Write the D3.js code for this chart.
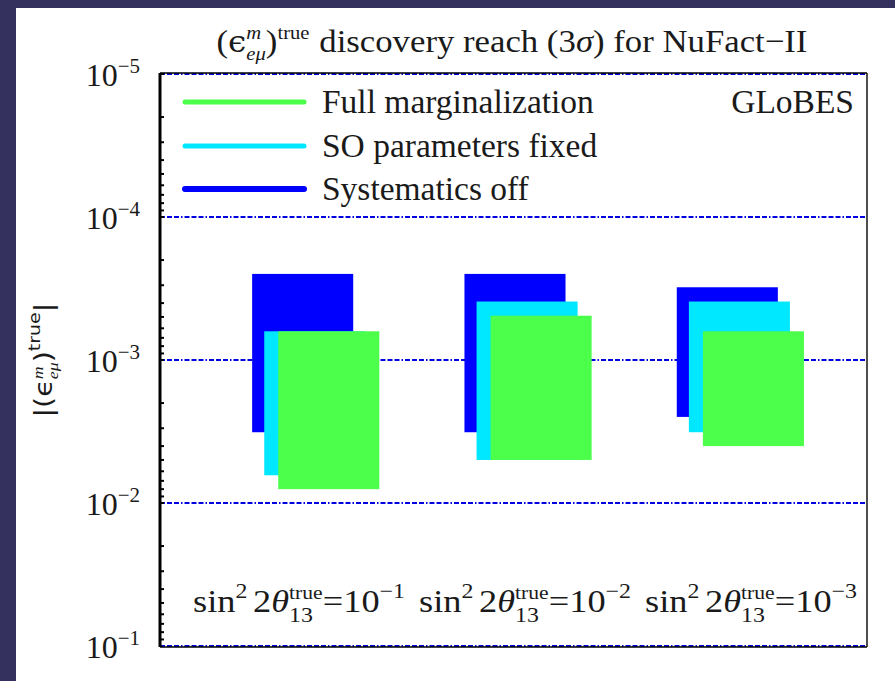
<!DOCTYPE html>
<html>
<head>
<meta charset="utf-8">
<script src="https://cdn.jsdelivr.net/npm/d3@7"></script>
<style>
  html, body { margin: 0; padding: 0; background: #ffffff; }
  svg { display: block; }
  text { font-family: "Liberation Serif", "Times New Roman", serif; fill: #1a1a1a; }
</style>
</head>
<body>
<svg id="chart" width="895" height="681"></svg>
<script>
// ---- data -------------------------------------------------------------
// sin^2(2 theta13) true values, as powers of ten (one group per value)
const thetaExponents = [-1, -2, -3];

// Series, drawn back to front
const seriesNames  = ["Systematics off", "SO parameters fixed", "Full marginalization"];
const seriesColors = ["#0000ff", "#00e8ff", "#4bff4b"];

// Discovery reach ranges |eps_emu^m|: upper edge (smaller value) and lower edge (larger value)
const sysOffLow   = [2.5e-4, 2.5e-4, 3.1e-4];
const sysOffHigh  = [3.2e-3, 3.2e-3, 2.5e-3];
const soFixedLow  = [6.3e-4, 3.9e-4, 3.9e-4];
const soFixedHigh = [6.4e-3, 5.0e-3, 3.2e-3];
const fullLow     = [6.3e-4, 4.9e-4, 6.3e-4];
const fullHigh    = [8.0e-3, 5.0e-3, 4.0e-3];

// Y axis decades
const yTickExponents = [-5, -4, -3, -2, -1];

// ---- layout -----------------------------------------------------------
const svg = d3.select("#chart");
const W = 895, H = 681;
const plot = { left: 160, right: 867, top: 74, bottom: 646 };
const STRETCH = 1.015;

svg.append("rect").attr("x", 0).attr("y", 0).attr("width", W).attr("height", H).attr("fill", "#ffffff");
// dark slide frame
svg.append("rect").attr("x", 0).attr("y", 0).attr("width", W).attr("height", 8).attr("fill", "#34315f");
svg.append("rect").attr("x", 0).attr("y", 0).attr("width", 16).attr("height", H).attr("fill", "#34315f");

const y = d3.scaleLog().domain([1e-5, 1e-1]).range([plot.top, plot.bottom]);
// group index -> horizontal position (group centre at integer index)
const x = d3.scaleLinear().domain([-0.736, 2.594]).range([plot.left, plot.right]);
// centres of the group captions
const labelX = d3.scalePoint().domain(thetaExponents).range([299, 751]);

const barOffset = [-0.302, -0.245, -0.179];  // left edge of each series bar, relative to group centre
const barWidth = 0.476;

const seriesLow  = [sysOffLow, soFixedLow, fullLow];
const seriesHigh = [sysOffHigh, soFixedHigh, fullHigh];

// ---- helper for math-like text with super/subscripts -------------------
// parts: {t, size, dy, italic, stack, gap, family}  (stack = share x with previous part)
function mathText(g, x0, y0, parts, anchor, opts) {
  opts = opts || {};
  const grp = g.append("g");
  let cx = 0, prevX = 0, prevW = 0;
  parts.forEach(p => {
    const el = grp.append("text")
      .attr("font-size", p.size)
      .attr("font-style", p.italic ? "italic" : "normal")
      .text(p.t);
    if (p.family) el.style("font-family", p.family);
    const w = el.node().getComputedTextLength();
    let px;
    if (p.stack) { px = prevX; cx = Math.max(prevX + prevW, prevX + w); }
    else { px = cx + (p.gap || 0); cx = px + w; }
    el.attr("x", px).attr("y", p.dy || 0);
    prevX = px; prevW = w;
  });
  const total = cx;
  const sx = opts.width ? opts.width / total : (opts.sx || 1);
  let shift = 0;
  if (anchor === "middle") shift = -total * sx / 2;
  else if (anchor === "end") shift = -total * sx;
  grp.attr("transform", `translate(${x0 + shift},${y0}) scale(${sx},1)`);
  return grp;
}

// ---- grid lines (dash-dot, blue) -------------------------------------
svg.append("g").selectAll("line")
  .data(yTickExponents)
  .join("line")
  .attr("x1", plot.left).attr("x2", plot.right)
  .attr("y1", d => y(Math.pow(10, d))).attr("y2", d => y(Math.pow(10, d)))
  .attr("stroke", "#0000e0").attr("stroke-width", 1.9)
  .attr("stroke-dasharray", "5,2,5,2,5,2,1.5,2");

// ---- bars --------------------------------------------------------------
seriesNames.forEach((name, s) => {
  svg.append("g").selectAll("rect")
    .data(thetaExponents.map((e, i) => ({ i, lo: seriesLow[s][i], hi: seriesHigh[s][i] })))
    .join("rect")
    .attr("x", d => x(d.i + barOffset[s]))
    .attr("width", d => x(d.i + barOffset[s] + barWidth) - x(d.i + barOffset[s]))
    .attr("y", d => y(d.lo))
    .attr("height", d => y(d.hi) - y(d.lo))
    .attr("fill", seriesColors[s]);
});

// ---- frame and ticks -----------------------------------------------------
const frame = svg.append("g");
frame.append("line").attr("x1", plot.left).attr("x2", plot.left).attr("y1", plot.top - 1).attr("y2", plot.bottom + 1)
  .attr("stroke", "#000").attr("stroke-width", 3);
frame.append("line").attr("x1", plot.right).attr("x2", plot.right).attr("y1", plot.top - 1).attr("y2", plot.bottom + 1)
  .attr("stroke", "#222").attr("stroke-width", 1.6);
frame.append("line").attr("x1", plot.left).attr("x2", plot.right).attr("y1", plot.top - 1).attr("y2", plot.top - 1)
  .attr("stroke", "#000").attr("stroke-width", 1.4);
frame.append("line").attr("x1", plot.left).attr("x2", plot.right).attr("y1", plot.bottom + 1).attr("y2", plot.bottom + 1)
  .attr("stroke", "#000").attr("stroke-width", 1.4);

// minor + major ticks on the left axis, pointing into the plot
const tickVals = [];
for (let e = -5; e < -1; e++) for (let m = 1; m <= 9; m++) tickVals.push(m * Math.pow(10, e));
frame.append("g").selectAll("line").data(tickVals).join("line")
  .attr("x1", plot.left).attr("x2", plot.left + 4)
  .attr("y1", d => y(d)).attr("y2", d => y(d))
  .attr("stroke", "#000").attr("stroke-width", 2);

// y tick labels 10^n
yTickExponents.forEach(e => {
  mathText(svg, plot.left - 20, y(Math.pow(10, e)) + 12, [
    { t: "10", size: 32 },
    { t: "\u2212" + Math.abs(e), size: 21, dy: -13 }
  ], "end");
});

// y axis label |(eps^m_emu)^true|
(function () {
  const g = svg.append("g").attr("transform", `translate(52,360) rotate(-90)`);
  mathText(g, 0, 0, [
    { t: "|(", size: 24, family: "DejaVu Sans" },
    { t: "\u03f5", size: 24, family: "DejaVu Sans" },
    { t: "m", size: 15, dy: -9, italic: true },
    { t: "e\u03bc", size: 15, dy: 6, italic: true, stack: true },
    { t: ")", size: 24, family: "DejaVu Sans" },
    { t: "true", size: 16, dy: -12, family: "DejaVu Sans" },
    { t: "|", size: 24, family: "DejaVu Sans" }
  ], "middle", { width: 115 });
})();

// title
mathText(svg, 512, 52, [
  { t: "(", size: 32 },
  { t: "\u03f5", size: 30, family: "DejaVu Serif" },
  { t: "m", size: 19, dy: -13, italic: true },
  { t: "e\u03bc", size: 19, dy: 8, italic: true, stack: true },
  { t: ")", size: 32 },
  { t: "true", size: 19, dy: -13 },
  { t: "discovery reach (3", size: 32, gap: 9 },
  { t: "\u03c3", size: 32, italic: true },
  { t: ") for NuFact\u2212II", size: 32 }
], "middle", { width: 591 });

// group captions along the bottom of the plot
thetaExponents.forEach(e => {
  mathText(svg, labelX(e), 612, [
    { t: "sin", size: 32 },
    { t: "2", size: 21, dy: -14 },
    { t: "2", size: 32, gap: 5 },
    { t: "\u03b8", size: 32, italic: true },
    { t: "true", size: 19, dy: -13 },
    { t: "13", size: 21, dy: 10, stack: true },
    { t: "=10", size: 32 },
    { t: "\u2212" + Math.abs(e), size: 21, dy: -14 }
  ], "middle", { width: 212 });
});

// ---- legend -----------------------------------------------------------
const legendOrder = [2, 1, 0];
const legendY = [102, 146, 189];
legendOrder.forEach((s, k) => {
  svg.append("line")
    .attr("x1", 185).attr("x2", 304)
    .attr("y1", legendY[k]).attr("y2", legendY[k])
    .attr("stroke", seriesColors[s]).attr("stroke-width", s === 0 ? 6 : 5)
    .attr("stroke-linecap", "round");
  svg.append("text")
    .attr("transform", `translate(322,${legendY[k] + 11}) scale(${STRETCH},1)`)
    .attr("font-size", 33)
    .text(seriesNames[s]);
});
svg.append("text")
  .attr("transform", `translate(854,113) scale(${STRETCH},1)`)
  .attr("text-anchor", "end")
  .attr("font-size", 33).text("GLoBES");
</script>
</body>
</html>
